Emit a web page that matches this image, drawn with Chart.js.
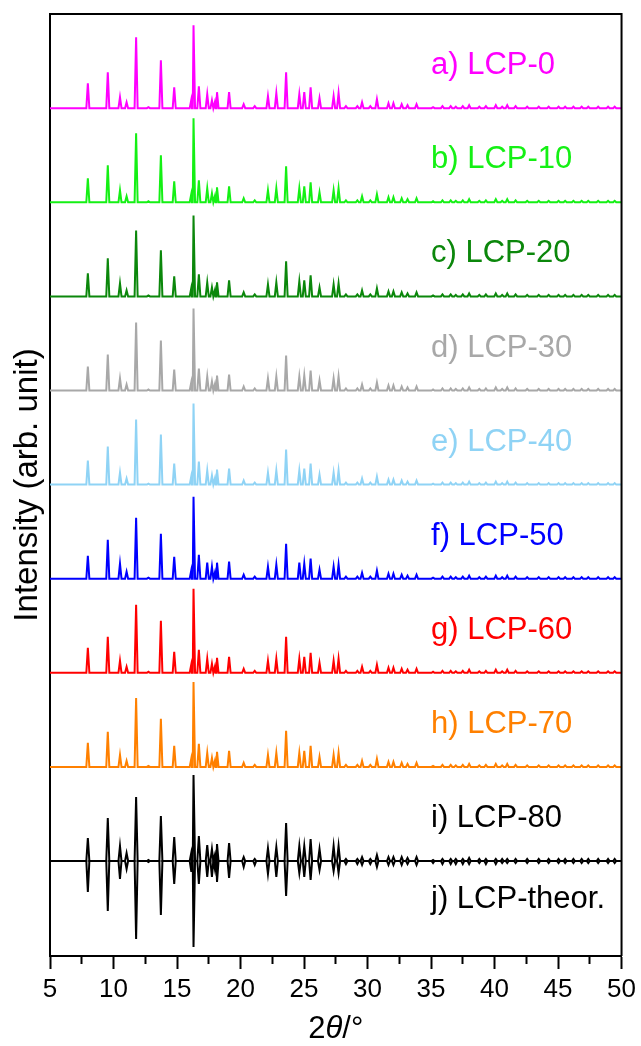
<!DOCTYPE html>
<html>
<head>
<meta charset="utf-8">
<title>LCP XRD patterns</title>
<script src="https://cdn.jsdelivr.net/npm/chart.js@4.4.1/dist/chart.umd.min.js"></script>
<style>
  html, body { margin: 0; padding: 0; background: #fff; }
  canvas { display: block; }
</style>
</head>
<body>
<canvas id="xrdCanvas" width="641" height="1046"></canvas>
<script>
// reflection positions, 2theta in degrees
var peakPos = [7.98, 9.55, 10.51, 11.03, 11.78, 12.75, 13.73, 14.78, 16.12, 16.30,
               16.72, 17.38, 17.75, 17.98, 18.15, 19.10, 20.25, 21.12, 22.16, 22.82,
               23.59, 24.63, 25.02, 25.52, 26.22, 27.33, 27.72, 28.30, 29.20, 29.57,
               30.22, 30.74, 31.65, 32.04, 32.69, 33.15, 33.86, 35.16, 35.90, 36.55,
               36.95, 37.50, 38.00, 38.80, 39.32, 40.10, 40.60, 41.00, 41.66, 42.57,
               43.48, 44.26, 45.04, 45.56, 46.21, 46.86, 47.38, 48.16, 48.94, 49.46];

// peak intensities (arb. unit), one value per reflection above
var lcp0  = [25,36,11,6,71,1,48,21,8,83, 22,14,8,6,16,16,4,2,12,15, 36,14,16,21,10,12,15,2,2,6,
             2,9,5,5,4,3,4,1,2,2, 1.5,2,3,1.5,2,3,1.5,3,2,1.5, 1.5,1.5,1.5,1.5,1.5,1.5,1.5,1.5,1.5,1.5];
var lcp10 = [24,37,12,6,69,1,47,21,8,84, 22,14,9,6,15,16,4,2,12,14, 36,14,16,20,10,12,14,2,2,6,
             2,8,5,5,4,3,4,1,2,2, 1.5,2,3,1.5,2,3,1.5,3,2,1.5, 1.5,1.5,1.5,1.5,1.5,1.5,1.5,1.5,1.5,1.5];
var lcp20 = [23,38,13,6,66,1,46,20,8,81, 22,14,9,6,14,16,4,2,12,14, 35,15,16,21,9,12,13,2,2,6,
             2,8,5,5,4,3,4,1,2,2, 1.5,2,3,1.5,2,3,1.5,3,2,1.5, 1.5,1.5,1.5,1.5,1.5,1.5,1.5,1.5,1.5,1.5];
var lcp30 = [24,36,12,6,68,1,50,21,8,82, 22,14,9,6,15,16,4,2,12,14, 35,14,15,20,10,12,14,2,2,6,
             2,8,5,5,4,3,4,1,2,2, 1.5,2,3,1.5,2,3,1.5,3,2,1.5, 1.5,1.5,1.5,1.5,1.5,1.5,1.5,1.5,1.5,1.5];
var lcp40 = [24,38,12,6,65,1,50,21,8,81, 23,14,9,6,15,16,4,2,12,14, 35,14,16,21,10,12,14,2,2,6,
             2,8,5,5,4,3,4,1,2,2, 1.5,2,3,1.5,2,3,1.5,3,2,1.5, 1.5,1.5,1.5,1.5,1.5,1.5,1.5,1.5,1.5,1.5];
var lcp50 = [23,39,15,7,61,1,45,22,8,82, 24,16,12,6,16,17,4,2,12,14, 35,16,15,20,9,12,14,2,2,6,
             2,8,5,5,4,3,4,1,2,2, 1.5,2,3,1.5,2,3,1.5,3,2,1.5, 1.5,1.5,1.5,1.5,1.5,1.5,1.5,1.5,1.5,1.5];
var lcp60 = [25,36,12,6,68,1,52,21,8,84, 23,14,9,6,15,16,4,2,12,14, 36,14,16,20,10,12,14,2,2,6,
             2,8,5,5,4,3,4,1,2,2, 1.5,2,3,1.5,2,3,1.5,3,2,1.5, 1.5,1.5,1.5,1.5,1.5,1.5,1.5,1.5,1.5,1.5];
var lcp70 = [24,35,12,6,69,1,48,21,8,85, 23,14,9,6,15,16,4,2,12,14, 36,14,16,21,10,12,14,2,2,6,
             2,8,5,5,4,3,4,1,2,2, 1.5,2,3,1.5,2,3,1.5,3,2,1.5, 1.5,1.5,1.5,1.5,1.5,1.5,1.5,1.5,1.5,1.5];
var lcp80 = [23,43,15,8,64,1,45,24,8,86, 25,16,12,6,17,18,4,2,13,14, 38,15,15,22,12,15,15,2,2,4,
             2,6,4,4,4,3,4,1,2,2, 2,2,3,2,2,2,2,2,2,2, 2,2,2,2,2,2,2,2,2,2];
var lcpTheor = [31,50,18,8,78,1,54,23,10,86, 23,16,16,8,21,17,6,4,13,16, 35,12,16,19,9,10,12,3,3,4,
                3,6,4,4,4,3,4,2,3,3, 3,3,3,2,3,3,2,2,2,2, 2,2,2,2,2,2,2,2,2,2];

var sampleNames = ['a) LCP-0', 'b) LCP-10', 'c) LCP-20', 'd) LCP-30', 'e) LCP-40',
                   'f) LCP-50', 'g) LCP-60', 'h) LCP-70', 'i) LCP-80', 'j) LCP-theor.'];
var sampleColors = ['#ff00ff', '#14f014', '#0b870b', '#a8a8a8', '#8fd3f5',
                    '#0000ff', '#ff0000', '#ff8000', '#000000', '#000000'];
var sampleData = [lcp0, lcp10, lcp20, lcp30, lcp40, lcp50, lcp60, lcp70, lcp80, lcpTheor];

var xMin = 5, xMax = 50;
var traceGap = 94.1;     // vertical offset between stacked patterns
var lowestBase = 95;     // baseline of i) and j)
var halfWidth = 0.12;    // drawn half width of a reflection, degrees
var labelAt = 35;        // 2theta where the sample names start
var fontFamily = '"Liberation Sans", Arial, sans-serif';

function buildTrace(heights, base, sign) {
    var pts = [{x: xMin, y: base}, {x: xMax, y: base}];
    for (var k = 0; k < peakPos.length; k++) {
        pts.push({x: peakPos[k] - halfWidth, y: base});
        pts.push({x: peakPos[k], y: base + sign * heights[k]});
        pts.push({x: peakPos[k] + halfWidth, y: base});
    }
    pts.sort(function (a, b) { return a.x - b.x; });
    return pts;
}

var datasets = sampleData.map(function (heights, k) {
    var theor = (k === 9);
    var base = theor ? lowestBase : lowestBase + (8 - k) * traceGap;
    return {
        label: sampleNames[k],
        data: buildTrace(heights, base, theor ? -1 : 1),
        baseline: base,
        borderColor: sampleColors[k],
        backgroundColor: sampleColors[k],
        borderWidth: 2,
        pointRadius: 0,
        tension: 0,
        fill: false
    };
});

var decor = {
    id: 'decor',
    afterDraw: function (chart) {
        var c = chart.ctx, area = chart.chartArea;
        var xs = chart.scales.x, ys = chart.scales.y;
        c.save();

        // close the frame on top and right
        c.strokeStyle = '#000';
        c.lineWidth = 2;
        c.beginPath();
        c.moveTo(area.left, area.top);
        c.lineTo(area.right, area.top);
        c.lineTo(area.right, area.bottom);
        c.stroke();

        // sample names next to each pattern
        c.font = '31px ' + fontFamily;
        c.textAlign = 'left';
        c.textBaseline = 'alphabetic';
        chart.data.datasets.forEach(function (ds, k) {
            var lift = (k === 9) ? -47 : 34;
            c.fillStyle = sampleColors[k];
            c.fillText(sampleNames[k], xs.getPixelForValue(labelAt), ys.getPixelForValue(ds.baseline + lift));
        });

        // x axis title: 2θ/° with italic theta
        var parts = [['2', ''], ['\u03b8', 'italic '], ['/\u00b0', '']];
        var widths = parts.map(function (p) {
            c.font = p[1] + '31px ' + fontFamily;
            return c.measureText(p[0]).width;
        });
        var total = widths.reduce(function (a, b) { return a + b; }, 0);
        var x = (area.left + area.right) / 2 - total / 2;
        c.fillStyle = '#000';
        parts.forEach(function (p, k) {
            c.font = p[1] + '31px ' + fontFamily;
            c.fillText(p[0], x, 1038);
            x += widths[k];
        });

        c.restore();
    }
};

var ctx = document.getElementById('xrdCanvas');
var xrdChart = new Chart(ctx, {
    type: 'line',
    data: { datasets: datasets },
    plugins: [decor],
    options: {
        responsive: false,
        animation: false,
        devicePixelRatio: 1,
        layout: { padding: { top: 14, right: 14, left: 0, bottom: 0 } },
        plugins: {
            legend: { display: false },
            tooltip: { enabled: false }
        },
        scales: {
            x: {
                type: 'linear',
                min: xMin,
                max: xMax,
                afterFit: function (s) { s.height = 90; },
                grid: {
                    display: true,
                    drawOnChartArea: false,
                    drawTicks: true,
                    tickLength: 13,
                    tickWidth: 2,
                    tickColor: '#000',
                    tickBorderDash: function (c) {
                        return (c.tick && c.tick.value % 5 !== 0) ? [7, 30] : [];
                    }
                },
                border: { display: true, color: '#000', width: 2 },
                ticks: {
                    stepSize: 2.5,
                    autoSkip: false,
                    maxRotation: 0,
                    padding: 5,
                    color: '#000',
                    font: { family: fontFamily, size: 26 },
                    callback: function (v) { return v % 5 === 0 ? v : ''; }
                }
            },
            y: {
                min: 0,
                max: 942,
                afterFit: function (s) { s.width = 50; },
                grid: { display: false },
                border: { display: true, color: '#000', width: 2 },
                ticks: { display: false },
                title: {
                    display: true,
                    text: 'Intensity (arb. unit)',
                    color: '#000',
                    font: { family: fontFamily, size: 33 },
                    padding: { top: 8, bottom: 0 }
                }
            }
        }
    }
});
</script>
</body>
</html>
